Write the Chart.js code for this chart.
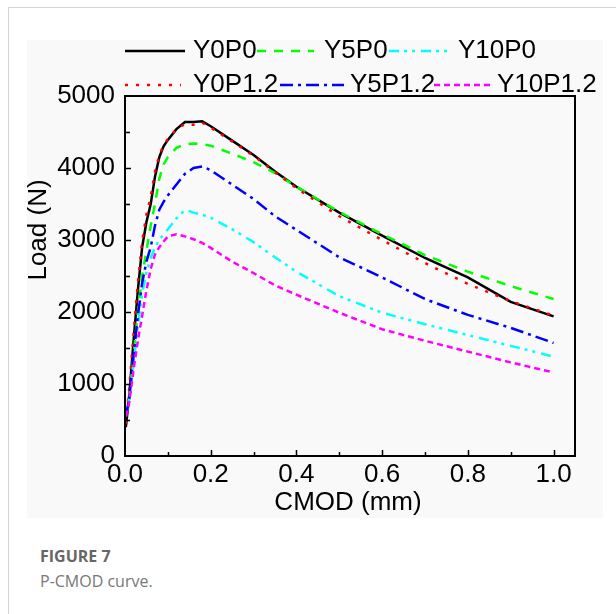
<!DOCTYPE html>
<html>
<head>
<meta charset="utf-8">
<script src="https://cdn.jsdelivr.net/npm/chart.js@4"></script>
<style>
  body { margin: 0; background: #fff; width: 616px; height: 614px; overflow: hidden; position: relative; font-family: "Open Sans", sans-serif; }
  .frame { position: absolute; left: 8px; top: 7px; right: 0; bottom: 0; border-top: 1px solid #d4d4d4; border-left: 1px solid #d4d4d4; }
  .plot { position: absolute; left: 27px; top: 40px; width: 576px; height: 478px; background: #f9f9f9; }
  .cap1 { position: absolute; left: 40px; top: 545px; font-size: 16px; font-weight: 700; color: #666; }
  .cap2 { position: absolute; left: 40px; top: 570px; font-size: 16px; color: #777; }
</style>
</head>
<body>
<div class="frame"></div>
<div class="plot"><canvas id="chart" width="576" height="478"></canvas></div>
<div class="cap1">FIGURE 7</div>
<div class="cap2">P-CMOD curve.</div>
<script>
// CMOD (mm) sample points shared by all curves
const cmod = [0.002, 0.01, 0.02, 0.03, 0.04, 0.05, 0.06, 0.07, 0.08, 0.09, 0.1, 0.12, 0.14, 0.16, 0.18, 0.2, 0.25, 0.3, 0.35, 0.4, 0.5, 0.6, 0.7, 0.8, 0.9, 1.0];

// Load (N)
const y0p0   = [400, 850, 1600, 2300, 2900, 3250, 3500, 3880, 4150, 4300, 4390, 4540, 4640, 4640, 4650, 4580, 4380, 4180, 3950, 3740, 3380, 3060, 2750, 2480, 2140, 1940];
const y5p0   = [550, 800, 1400, 2000, 2500, 2850, 3200, 3500, 3850, 4050, 4150, 4280, 4330, 4340, 4330, 4310, 4200, 4080, 3930, 3740, 3390, 3080, 2790, 2560, 2360, 2180];
const y10p0  = [550, 800, 1300, 1800, 2250, 2550, 2750, 2900, 3000, 3080, 3150, 3300, 3420, 3380, 3350, 3310, 3150, 2970, 2760, 2560, 2220, 1990, 1830, 1680, 1530, 1380];
const y0p12  = [450, 950, 1700, 2400, 2980, 3350, 3600, 3950, 4180, 4320, 4400, 4540, 4610, 4600, 4630, 4560, 4370, 4170, 3940, 3720, 3330, 3000, 2680, 2390, 2150, 1950];
const y5p12  = [550, 800, 1400, 1950, 2400, 2700, 2900, 3200, 3420, 3530, 3620, 3770, 3920, 4000, 4020, 3970, 3770, 3570, 3330, 3140, 2760, 2480, 2180, 1960, 1780, 1570];
const y10p12 = [550, 750, 1200, 1600, 1950, 2300, 2600, 2800, 2900, 2980, 3050, 3080, 3050, 3010, 2960, 2890, 2700, 2540, 2370, 2240, 1990, 1760, 1600, 1450, 1300, 1160];

const xTicks = [0, 0.2, 0.4, 0.6, 0.8, 1.0];
const yTicks = [0, 1000, 2000, 3000, 4000, 5000];

const FONT = '"Liberation Sans", Arial, sans-serif';

function pts(ys) {
  return cmod.map((x, i) => ({ x: x, y: ys[i] }));
}

const series = [
  { label: 'Y0P0',    data: y0p0,   color: '#000000', dash: [],                 order: 6 },
  { label: 'Y5P0',    data: y5p0,   color: '#00ff00', dash: [9, 8],             order: 5 },
  { label: 'Y10P0',   data: y10p0,  color: '#00ffff', dash: [10, 5, 3, 5, 3, 6], order: 3 },
  { label: 'Y0P1.2',  data: y0p12,  color: '#ff0000', dash: [3, 8],             order: 4 },
  { label: 'Y5P1.2',  data: y5p12,  color: '#0000ff', dash: [13, 5, 3, 5],       order: 2 },
  { label: 'Y10P1.2', data: y10p12, color: '#ff00ff', dash: [6, 4],             order: 1 }
];

// legend item placement (canvas px): line start/end, text x, row y
const legendLayout = [
  { line: [98, 158],  text: 166, y: 11 },
  { line: [230, 287], text: 297, y: 11 },
  { line: [362, 425], text: 431, y: 11 },
  { line: [98, 154],  text: 166, y: 45 },
  { line: [253, 317], text: 323, y: 45 },
  { line: [407, 464], text: 470, y: 45 }
];

const decorPlugin = {
  id: 'decor',
  afterDraw(chart) {
    const ctx = chart.ctx;
    const a = chart.chartArea;
    const xs = chart.scales.x, ys = chart.scales.y;
    ctx.save();
    // frame
    ctx.strokeStyle = '#000';
    ctx.lineWidth = 2;
    ctx.setLineDash([]);
    ctx.strokeRect(a.left, a.top, a.right - a.left, a.bottom - a.top);
    // inward ticks
    ctx.lineWidth = 1.5;
    ctx.beginPath();
    for (let v = 0.1; v <= 1.0001; v += 0.1) {
      const px = Math.round(xs.getPixelForValue(v)) + 0.5;
      const major = Math.abs(v * 5 - Math.round(v * 5)) < 1e-6;
      ctx.moveTo(px, a.bottom);
      ctx.lineTo(px, a.bottom - (major ? 6 : 4));
    }
    for (let v = 500; v < 5000; v += 500) {
      const py = Math.round(ys.getPixelForValue(v)) + 0.5;
      ctx.moveTo(a.left, py);
      ctx.lineTo(a.left + (v % 1000 === 0 ? 6 : 5), py);
    }
    ctx.stroke();
    // axis titles
    ctx.fillStyle = '#000';
    ctx.font = '26px ' + FONT;
    ctx.textAlign = 'center';
    ctx.textBaseline = 'middle';
    ctx.fillText('CMOD (mm)', 321, 463);
    ctx.save();
    ctx.translate(12, 190);
    ctx.rotate(-Math.PI / 2);
    ctx.fillText('Load (N)', 0, 0);
    ctx.restore();
    // legend
    ctx.textAlign = 'left';
    series.forEach((s, i) => {
      const L = legendLayout[i];
      ctx.strokeStyle = s.color;
      ctx.lineWidth = 2.5;
      ctx.setLineDash(s.dash);
      ctx.beginPath();
      ctx.moveTo(L.line[0], L.y);
      ctx.lineTo(L.line[1], L.y);
      ctx.stroke();
      ctx.setLineDash([]);
      ctx.fillText(s.label, L.text, L.y);
    });
    ctx.restore();
  }
};

new Chart(document.getElementById('chart'), {
  type: 'line',
  data: {
    datasets: series.map(s => ({
      label: s.label,
      data: pts(s.data),
      borderColor: s.color,
      borderWidth: 2.5,
      borderDash: s.dash,
      pointRadius: 0,
      tension: 0,
      fill: false,
      order: s.order
    }))
  },
  options: {
    responsive: false,
    animation: false,
    layout: { padding: { top: 56, right: 28, left: 0, bottom: 0 } },
    plugins: { legend: { display: false }, tooltip: { enabled: false } },
    scales: {
      x: {
        type: 'linear', min: 0, max: 1.05,
        grid: { display: false, drawTicks: false },
        border: { display: false },
        ticks: { color: '#000', font: { family: FONT, size: 26 }, padding: 3, maxRotation: 0, autoSkip: false,
                 callback: v => Number(v).toFixed(1) },
        afterBuildTicks: s => { s.ticks = xTicks.map(v => ({ value: v })); },
        afterFit: s => { s.height = 62; }
      },
      y: {
        min: 0, max: 5000,
        grid: { display: false, drawTicks: false },
        border: { display: false },
        ticks: { color: '#000', font: { family: FONT, size: 26 }, padding: 10, autoSkip: false,
                 callback: v => String(v) },
        afterBuildTicks: s => { s.ticks = yTicks.map(v => ({ value: v })); },
        afterFit: s => { s.width = 98; }
      }
    }
  },
  plugins: [decorPlugin]
});
</script>
</body>
</html>
